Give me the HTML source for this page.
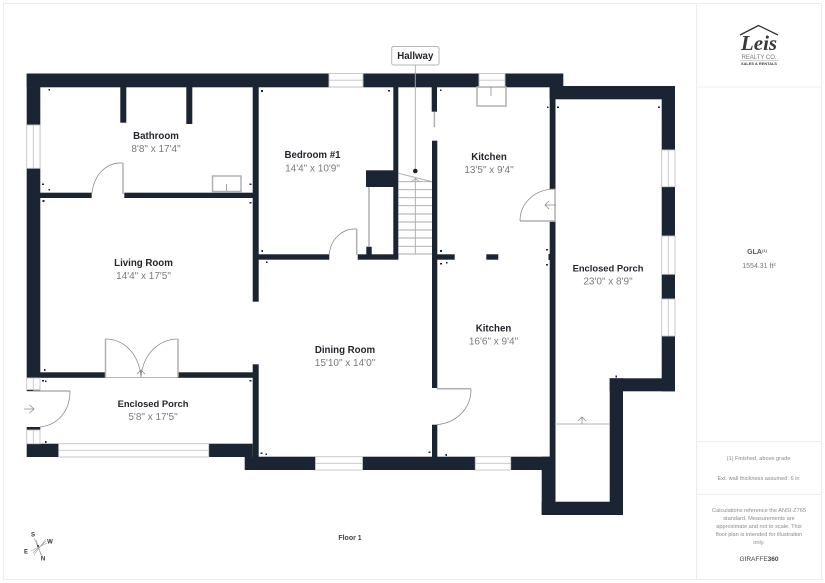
<!DOCTYPE html>
<html>
<head>
<meta charset="utf-8">
<style>
html,body{margin:0;padding:0;background:#fff;width:825px;height:583px;overflow:hidden}
svg{display:block}
text{font-family:"Liberation Sans",sans-serif;text-anchor:middle}
.n{font-size:9.7px;font-weight:bold;fill:#23262b}
.e{font-size:9.4px}
.d{font-size:10px;fill:#7a7a7a}
.s{font-size:5.6px;fill:#8a8a8a}
.g{fill:none;stroke:#b5b5b5;stroke-width:1}
.g2{fill:none;stroke:#b0b0b0;stroke-width:1.5}
.a{fill:none;stroke:#8c8c8c;stroke-width:.8}
.w{fill:#fff;stroke:#c4c4c4;stroke-width:.9}
.m{stroke:#c4c4c4;stroke-width:.9}
</style>
</head>
<body>
<svg width="825" height="583" viewBox="0 0 825 583" xmlns="http://www.w3.org/2000/svg">
<rect width="825" height="583" fill="#fff"/>
<!-- frame -->
<g fill="none" stroke="#ececec" stroke-width="1">
<rect x="3.5" y="3.5" width="818" height="576"/>
<path d="M696.5 3V580M697 87H822M697 441.5H822M697 494.5H822"/>
</g>
<!-- walls -->
<g fill="#1b2432">
<rect x="26.7" y="73.5" width="536.6" height="13.8"/>
<rect x="26.7" y="73.5" width="13.6" height="304.5"/>
<rect x="120.3" y="87" width="6" height="35.7"/>
<rect x="186.3" y="87" width="6" height="37"/>
<rect x="252.7" y="87" width="6" height="214.7"/>
<rect x="40" y="192.7" width="51.7" height="5.3"/>
<rect x="124.3" y="192.7" width="129" height="5.3"/>
<rect x="258" y="254.3" width="71.3" height="5.4"/>
<rect x="357.7" y="254.3" width="40.6" height="5.4"/>
<rect x="393.3" y="87" width="5" height="172"/>
<rect x="366" y="170.3" width="28" height="16.7"/>
<rect x="366.3" y="246.7" width="5.4" height="9"/>
<rect x="431.7" y="87" width="5.3" height="24.7"/>
<rect x="432" y="140.7" width="5.3" height="247.3"/>
<rect x="432" y="424.7" width="5.3" height="33"/>
<rect x="432" y="254.3" width="22.7" height="5.4"/>
<rect x="486.3" y="254.3" width="12" height="5.4"/>
<rect x="549.7" y="86" width="5.8" height="103.3"/>
<rect x="549.7" y="221.7" width="5.8" height="280"/>
<rect x="549.7" y="86" width="125.3" height="13.3"/>
<rect x="661.7" y="86" width="13.3" height="305.3"/>
<rect x="609.7" y="378.3" width="65.3" height="13"/>
<rect x="609.7" y="378.3" width="13.3" height="136.7"/>
<rect x="541.7" y="501.7" width="81.3" height="13.3"/>
<rect x="541.7" y="456.7" width="13.3" height="58.3"/>
<rect x="244.7" y="456.7" width="310" height="13.3"/>
<rect x="252.7" y="364.3" width="6" height="100"/>
<rect x="40" y="372.3" width="65" height="5.5"/>
<rect x="178" y="372.3" width="75" height="5.5"/>
<rect x="26.7" y="443.7" width="32" height="13.3"/>
<rect x="208.7" y="443.7" width="44" height="13.3"/>
<rect x="26.7" y="389.6" width="13.6" height="1.6"/>
<rect x="26.7" y="427" width="13.6" height="3"/>
</g>
<!-- windows -->
<g>
<rect class="w" x="26.7" y="125" width="13.3" height="43.3"/><path class="m" d="M33.3 125V168.3"/>
<rect class="w" x="329" y="73.5" width="34" height="13.5"/><path class="m" d="M329 80.2H363"/>
<rect class="w" x="479" y="73.5" width="26" height="13.5"/><path class="m" d="M479 80.2H505"/>
<rect class="w" x="661.7" y="150" width="13.3" height="36.7"/><path class="m" d="M668.3 150V186.7"/>
<rect class="w" x="661.7" y="236" width="13.3" height="38.3"/><path class="m" d="M668.3 236V274.3"/>
<rect class="w" x="661.7" y="299" width="13.3" height="37"/><path class="m" d="M668.3 299V336"/>
<rect class="w" x="58.7" y="443.7" width="150" height="13.3"/><path class="m" d="M58.7 450.3H208.7"/>
<rect class="w" x="315.5" y="456.7" width="47" height="13.3"/><path class="m" d="M315.5 463.3H362.5"/>
<rect class="w" x="475.3" y="456.7" width="35.4" height="13.3"/><path class="m" d="M475.3 463.3H510.7"/>
<rect class="w" x="26.7" y="378" width="13.3" height="11.6"/><path class="m" d="M33.3 378V389.6"/>
<rect class="w" x="26.7" y="430" width="13.3" height="13.7"/><path class="m" d="M33.3 430V443.7"/>
</g>
<!-- doors -->
<g>
<path class="g2" d="M123 163V194"/>
<path class="a" d="M123 163C106 162 94 175 92 193"/>
<path class="g2" d="M356.7 229V255"/>
<path class="a" d="M356.7 229C342 228 330 240 329.3 255"/>
<path class="g2" d="M369 187V247"/>
<path class="g2" d="M434.4 112V127"/>
<path class="g2" d="M520 221H555M555 189V222"/>
<path class="a" d="M555 189C535 189 520 203 520 221"/>
<path class="a" d="M556 205H545M549 201L545 205L549 209"/>
<path class="g2" d="M437 388.7H471"/>
<path class="a" d="M471 389C471 410 455 423 437 424.7"/>
<path class="g2" d="M33 391H70"/>
<path class="a" d="M70 391C70 411 58 425 40 427"/>
<path class="a" d="M24 409H34M29.5 405L34 409L29.5 413"/>
<path class="g2" d="M105.5 339V377M178 339V377"/>
<path class="a" d="M105.5 339C124 339 139 354 141 377M178 339C159 339 143 354 141 377"/>
<path class="g" d="M105 377.5H178"/>
<path class="a" d="M141 370V377M137 374L141 370L145 374"/>
<path class="g" d="M555 424H610"/>
<path class="a" d="M582 417V424M578 421L582 417L586 421"/>
</g>
<!-- fixtures -->
<rect x="212.5" y="176" width="28.5" height="15.5" fill="#fff" stroke="#b0b0b0" stroke-width="1.5"/>
<path class="a" d="M226.5 184V191"/>
<rect x="477" y="87" width="29" height="19" fill="#fff" stroke="#b0b0b0" stroke-width="1.5"/>
<path class="a" d="M491 87V96"/>
<!-- stairs -->
<g stroke="#a8a8a8" stroke-width=".9" fill="none">
<path d="M398.5 173.3L432 181.7M398.5 181.7H432M398.5 189.7H432M398.5 197.7H432M398.5 205.7H432M398.5 214H432M398.5 222H432M398.5 230H432M398.5 238H432M398.5 246.3H432M398.5 254H432"/>
<path d="M415.3 65V171M415.3 178V254M411 182L415.3 178.5L419.5 182"/>
</g>
<circle cx="415.3" cy="171" r="2.3" fill="#1b2432"/>
<!-- corner ticks -->
<g fill="#1b2432">
<rect x="48.5" y="89" width="1.5" height="1.5"/><rect x="42" y="183.5" width="2" height="1.5"/><rect x="48.5" y="189" width="1.5" height="1.5"/>
<rect x="42.5" y="200" width="2" height="2"/><rect x="249.5" y="183.5" width="2" height="1.5"/><rect x="249.5" y="202" width="2" height="1.5"/>
<rect x="261" y="90" width="2" height="2"/><rect x="388" y="90" width="2" height="1.5"/><rect x="261.5" y="250" width="1.5" height="2"/><rect x="266" y="261.5" width="1.5" height="1.5"/>
<rect x="440" y="89.5" width="1.5" height="1.5"/><rect x="557" y="106.5" width="2" height="1.5"/><rect x="547" y="106.5" width="1.5" height="1.5"/>
<rect x="440" y="250" width="2" height="2"/><rect x="440" y="263" width="2" height="1.5"/><rect x="446" y="262" width="1.5" height="1.5"/>
<rect x="546" y="249" width="2" height="1.5"/><rect x="546" y="264" width="2" height="1.5"/><rect x="548.5" y="254" width="1.5" height="6"/>
<rect x="445.5" y="454" width="1.5" height="2"/><rect x="428.5" y="451.5" width="2" height="1.5"/>
<rect x="615.5" y="375.5" width="1.5" height="2"/><rect x="658" y="106.5" width="2" height="1.5"/>
<rect x="44" y="369" width="1.5" height="2"/><rect x="42" y="380" width="2" height="1.5"/><rect x="45" y="380.5" width="1.5" height="1.5"/>
<rect x="45" y="441" width="1.5" height="2"/><rect x="249.5" y="380" width="2" height="1.5"/><rect x="260.5" y="452.5" width="2" height="1.5"/><rect x="265.5" y="453.5" width="1.5" height="1.5"/>
</g>
<!-- hallway label -->
<rect x="391.7" y="46.5" width="47.3" height="18.5" rx="2" fill="#fff" stroke="#b5b5b5" stroke-width="1"/>
<text x="415.3" y="59" class="n">Hallway</text>
<!-- rooms -->
<text x="156" y="139" class="n">Bathroom</text><text x="156" y="152" class="d">8'8" x 17'4"</text>
<text x="312.5" y="158" class="n">Bedroom #1</text><text x="312.5" y="171.5" class="d">14'4" x 10'9"</text>
<text x="489" y="160" class="n">Kitchen</text><text x="489" y="173" class="d">13'5" x 9'4"</text>
<text x="143.5" y="266" class="n">Living Room</text><text x="143.5" y="279" class="d">14'4" x 17'5"</text>
<text x="608" y="271.5" class="n e">Enclosed Porch</text><text x="608" y="284.5" class="d">23'0" x 8'9"</text>
<text x="345" y="353" class="n">Dining Room</text><text x="345" y="366" class="d">15'10" x 14'0"</text>
<text x="493.5" y="331.5" class="n">Kitchen</text><text x="493.5" y="344.5" class="d">16'6" x 9'4"</text>
<text x="153" y="407" class="n e">Enclosed Porch</text><text x="153" y="420" class="d">5'8" x 17'5"</text>
<text x="350" y="540" style="font-size:7px;font-weight:bold;fill:#444">Floor 1</text>
<!-- logo -->
<path d="M740 35L758.5 25.5L778 35" fill="none" stroke="#333" stroke-width="1.3"/>
<text x="759" y="50" style="font-family:'Liberation Serif',serif;font-style:italic;font-weight:bold;font-size:21px;fill:#3a3a3a">Leis</text>
<text x="759" y="59" style="font-size:6px;fill:#777">REALTY CO.</text>
<path d="M740 60.5H778" stroke="#aaa" stroke-width=".6"/>
<text x="759" y="65" style="font-size:3.9px;font-weight:bold;fill:#444">SALES &amp; RENTALS</text>
<!-- side panel -->
<text x="757" y="254" style="font-size:7px;font-weight:bold;fill:#555">GLA<tspan font-size="4" dy="-2">(1)</tspan></text>
<text x="759" y="268" style="font-size:7px;fill:#777">1554.31 ft²</text>
<text x="758.5" y="460" class="s">(1) Finished, above grade</text>
<text x="758.5" y="480" class="s">Ext. wall thickness assumed: 6 in</text>
<text x="759" y="512" class="s">Calculations reference the ANSI-Z765</text>
<text x="759" y="520" class="s">standard. Measurements are</text>
<text x="759" y="528" class="s">approximate and not to scale. This</text>
<text x="759" y="536" class="s">floor plan is intended for illustration</text>
<text x="759" y="544" class="s">only.</text>
<text x="759" y="561" style="font-size:6.5px;fill:#444">GIRAFFE<tspan font-weight="bold">360</tspan></text>
<!-- compass -->
<g stroke="#999" stroke-width=".6">
<path d="M34 538L42 556M46 541L33 553M31 551L47 543M36 540L41 555M45.5 539.5L34 555"/>
</g>
<circle cx="38" cy="546" r="1" fill="#333"/>
<g style="font-size:6px;font-weight:bold;fill:#333">
<text x="33" y="536.5">S</text><text x="50" y="543.5">W</text><text x="26" y="553.5">E</text><text x="43" y="560.5">N</text>
</g>
</svg>
</body>
</html>
